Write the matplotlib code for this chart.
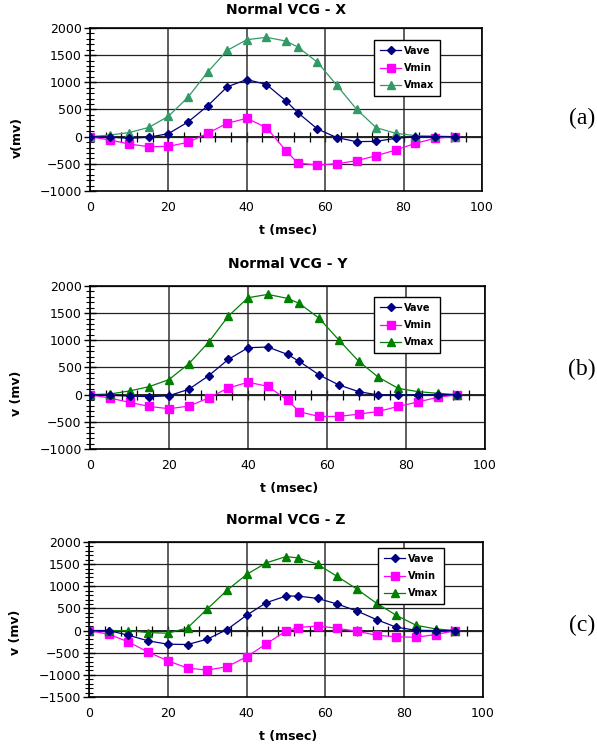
import numpy as np
import matplotlib
matplotlib.use('Agg')
import matplotlib.pyplot as plt

# Tempo (msec), comum aos tres graficos
t = [0, 5, 10, 15, 20, 25, 30, 35, 40, 45, 50, 53, 58, 63, 68, 73, 78, 83, 88, 93]

# Normal VCG - X
x_vave = [0, -8, -30, -10, 55, 270, 566, 917, 1052, 960, 658, 443, 142, -18, -92, -86, -30, 0, 0, 0]
x_vmin = [0, -60, -135, -185, -178, -105, 62, 246, 338, 166, -258, -486, -523, -498, -443, -351, -246, -123, -30, 0]
x_vmax = [0, 30, 75, 170, 375, 726, 1188, 1588, 1785, 1828, 1760, 1650, 1372, 942, 505, 166, 62, 18, 12, 0]

# Normal VCG - Y
y_vave = [0, -12, -25, -37, -19, 99, 346, 648, 864, 877, 741, 611, 364, 179, 56, -6, -6, 0, 0, 0]
y_vmin = [0, -62, -142, -216, -259, -210, -62, 123, 228, 154, -99, -315, -401, -401, -358, -309, -216, -136, -49, 0]
y_vmax = [0, 12, 68, 148, 278, 568, 963, 1444, 1784, 1846, 1772, 1679, 1407, 1006, 617, 321, 117, 56, 25, 0]

# Normal VCG - Z
z_vave = [0, 0, -105, -232, -307, -315, -195, 22, 345, 630, 779, 779, 727, 600, 442, 247, 75, 7, 0, 0]
z_vmin = [0, -82, -255, -487, -682, -847, -892, -817, -592, -300, -7, 67, 105, 52, -15, -105, -142, -150, -90, 0]
z_vmax = [0, 0, 0, -45, -60, 60, 487, 907, 1267, 1529, 1671, 1641, 1499, 1222, 937, 615, 345, 120, 37, 0]

W, H = 597, 746
fig = plt.figure(figsize=(W / 100, H / 100), dpi=100)
plt.rcParams['font.family'] = 'DejaVu Sans'


def px_axes(l, r, top, bot):
  return [l / W, 1 - bot / H, (r - l) / W, (bot - top) / H]


def desenha_painel(rect, titulo, vave, vmin, vmax, cor_max, ymin, leg_xy, ylab, ylab_y, xlab_y, tpad, letra, letra_y):
  ax = fig.add_axes(rect)
  ax.set_xlim(0, 100)
  ax.set_ylim(ymin, 2000)
  ax.set_xticks(np.arange(0, 101, 20))
  ax.set_yticks(np.arange(ymin, 2001, 500))
  ax.set_yticks(np.arange(ymin, 2001, 100), minor=True)
  ax.grid(True, which='major', axis='x', color='#333333', lw=1.1)
  ax.grid(True, which='major', axis='y', color='#222222', lw=0.9)
  ax.set_axisbelow(True)
  ax.tick_params(axis='x', length=0, pad=7, labelsize=9)
  ax.tick_params(axis='y', which='major', direction='inout', length=8, width=1, pad=2, labelsize=9)
  ax.tick_params(axis='y', which='minor', direction='inout', length=6, width=0.8)
  for s in ax.spines.values():
    s.set_linewidth(1.2)

  # eixo horizontal em v = 0 com marcas
  frac0 = (0 - ymin) / (2000 - ymin)
  sec = ax.secondary_xaxis(frac0)
  sec.set_xticks(np.arange(4, 100, 4))
  sec.tick_params(direction='inout', length=7, width=0.9, labelbottom=False, labeltop=False)
  sec.spines['bottom'].set_linewidth(1.2)
  sec.spines['top'].set_linewidth(1.2)

  ax.plot(t, vave, color='#000080', lw=0.9, marker='D', ms=4, label='Vave', zorder=4)
  ax.plot(t, vmin, color='#FF00FF', lw=0.9, marker='s', ms=5.5, label='Vmin', zorder=3)
  ax.plot(t, vmax, color=cor_max, lw=0.9, marker='^', ms=6, label='Vmax', zorder=3)

  ax.set_title(titulo, fontsize=10, fontweight='bold', pad=tpad)
  ax.set_xlabel('t (msec)', fontsize=9, fontweight='bold')
  ax.xaxis.set_label_coords(0.505, xlab_y)
  ax.set_ylabel(ylab, fontsize=9, fontweight='bold')
  ax.yaxis.set_label_coords(-0.17, ylab_y)

  leg = ax.legend(loc='upper left', bbox_to_anchor=(leg_xy[0] / W, 1 - leg_xy[1] / H),
                  bbox_transform=fig.transFigure, borderaxespad=0, fancybox=False,
                  framealpha=1, edgecolor='black', prop={'weight': 'bold', 'size': 7},
                  handlelength=2.2, handletextpad=0.3, labelspacing=0.75, borderpad=0.6)
  leg.get_frame().set_linewidth(1.0)

  fig.text(582 / W, 1 - letra_y / H, letra, fontsize=17, family='Liberation Serif',
           ha='center', va='center')
  return ax


desenha_painel(px_axes(90, 482, 28, 191), 'Normal VCG - X', x_vave, x_vmin, x_vmax, '#339966',
               -1000, (374, 40), 'v(mv)', 0.33, -0.205, 10, '(a)', 118)
desenha_painel(px_axes(90, 485, 286, 449), 'Normal VCG - Y', y_vave, y_vmin, y_vmax, '#008000',
               -1000, (374, 297), 'v (mv)', 0.34, -0.20, 13, '(b)', 369)
desenha_painel(px_axes(89, 483, 542, 697), 'Normal VCG - Z', z_vave, z_vmin, z_vmax, '#008000',
               -1500, (378, 548), 'v (mv)', 0.42, -0.215, 13, '(c)', 625)

plt.savefig('out.png', dpi=100)
